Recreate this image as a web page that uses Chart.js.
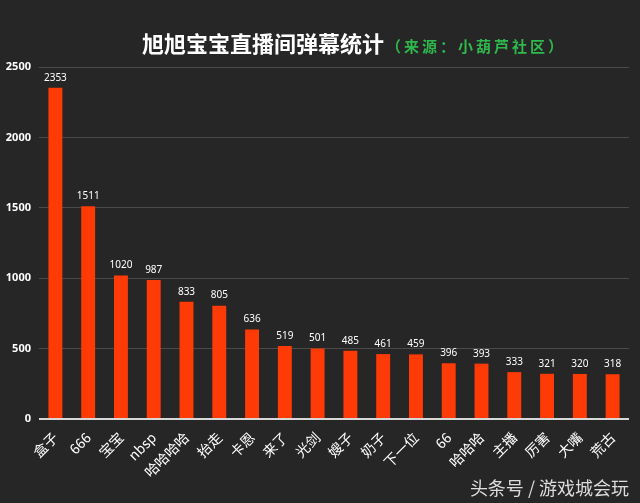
<!DOCTYPE html>
<html>
<head>
<meta charset="utf-8">
<script src="https://cdn.jsdelivr.net/npm/chart.js@4"></script>
<style>
  html, body { margin: 0; padding: 0; background: #262626; }
  #wrap { position: relative; width: 640px; height: 503px; }
  #title { position: absolute; left: 142px; top: 26px; white-space: nowrap;
    font-family: "Noto Sans CJK SC", sans-serif; }
  #title .main { color: #fff; font-size: 22px; font-weight: bold; }
  #title .src { color: #2fb84c; font-size: 15px; font-weight: bold; letter-spacing: 3px; margin-left: 2px; }
  #mark { position: absolute; right: 11px; bottom: 3px; color: #dcdcdc;
    font-family: "Noto Sans CJK SC", sans-serif; font-size: 18px; }
</style>
</head>
<body>
<div id="wrap">
  <canvas id="chart" width="640" height="503"></canvas>
  <div id="title"><span class="main">旭旭宝宝直播间弹幕统计</span><span class="src">（来源：小葫芦社区）</span></div>
  <div id="mark">头条号 / 游戏城会玩</div>
</div>
<script>
const categories = ['盒子', '666', '宝宝', 'nbsp', '哈哈哈哈', '抬走', '卡恩', '来了', '光剑',
  '嫂子', '奶子', '下一位', '66', '哈哈哈', '主播', '厉害', '大嘴', '荒古'];
const counts = [2353, 1511, 1020, 987, 833, 805, 636, 519, 501, 485, 461, 459, 396, 393, 333, 321, 320, 318];
const yTicks = [0, 500, 1000, 1500, 2000, 2500];

// value labels above bars
const barLabels = {
  id: 'barLabels',
  afterDatasetsDraw(chart) {
    const ctx = chart.ctx;
    const meta = chart.getDatasetMeta(0);
    ctx.save();
    ctx.fillStyle = '#ffffff';
    ctx.font = '10px "Noto Sans", sans-serif';
    ctx.textAlign = 'center';
    ctx.textBaseline = 'bottom';
    meta.data.forEach((bar, i) => {
      ctx.fillText(counts[i], bar.x, bar.y - 5);
    });
    ctx.restore();
  }
};

new Chart(document.getElementById('chart'), {
  type: 'bar',
  data: {
    labels: categories,
    datasets: [{
      data: counts,
      backgroundColor: '#fe3a06',
      barPercentage: 0.85,
      categoryPercentage: 0.5
    }]
  },
  options: {
    responsive: false,
    animation: false,
    layout: { padding: { top: 67, right: 11, left: 0, bottom: 0 } },
    plugins: { legend: { display: false }, tooltip: { enabled: false } },
    scales: {
      x: {
        grid: { display: false },
        border: { display: false },
        ticks: {
          color: '#ffffff',
          font: { family: '"Noto Sans CJK SC", sans-serif', size: 14 },
          minRotation: 45, maxRotation: 45, padding: 2,
          autoSkip: false
        },
        afterFit(scale) { scale.height = 84; }
      },
      y: {
        min: 0, max: 2500,
        afterBuildTicks(scale) { scale.ticks = yTicks.map(v => ({ value: v })); },
        grid: {
          color: c => c.tick && c.tick.value === 0 ? '#d8d8d8' : '#4a4a4a',
          lineWidth: c => c.tick && c.tick.value === 0 ? 2 : 1,
          drawTicks: false
        },
        border: { display: false },
        ticks: {
          color: '#ffffff',
          font: { family: '"Noto Sans", sans-serif', size: 11, weight: 'bold' },
          padding: 8,
          callback: v => String(v)
        },
        afterFit(scale) { scale.width = 39; }
      }
    }
  },
  plugins: [barLabels]
});
</script>
</body>
</html>
